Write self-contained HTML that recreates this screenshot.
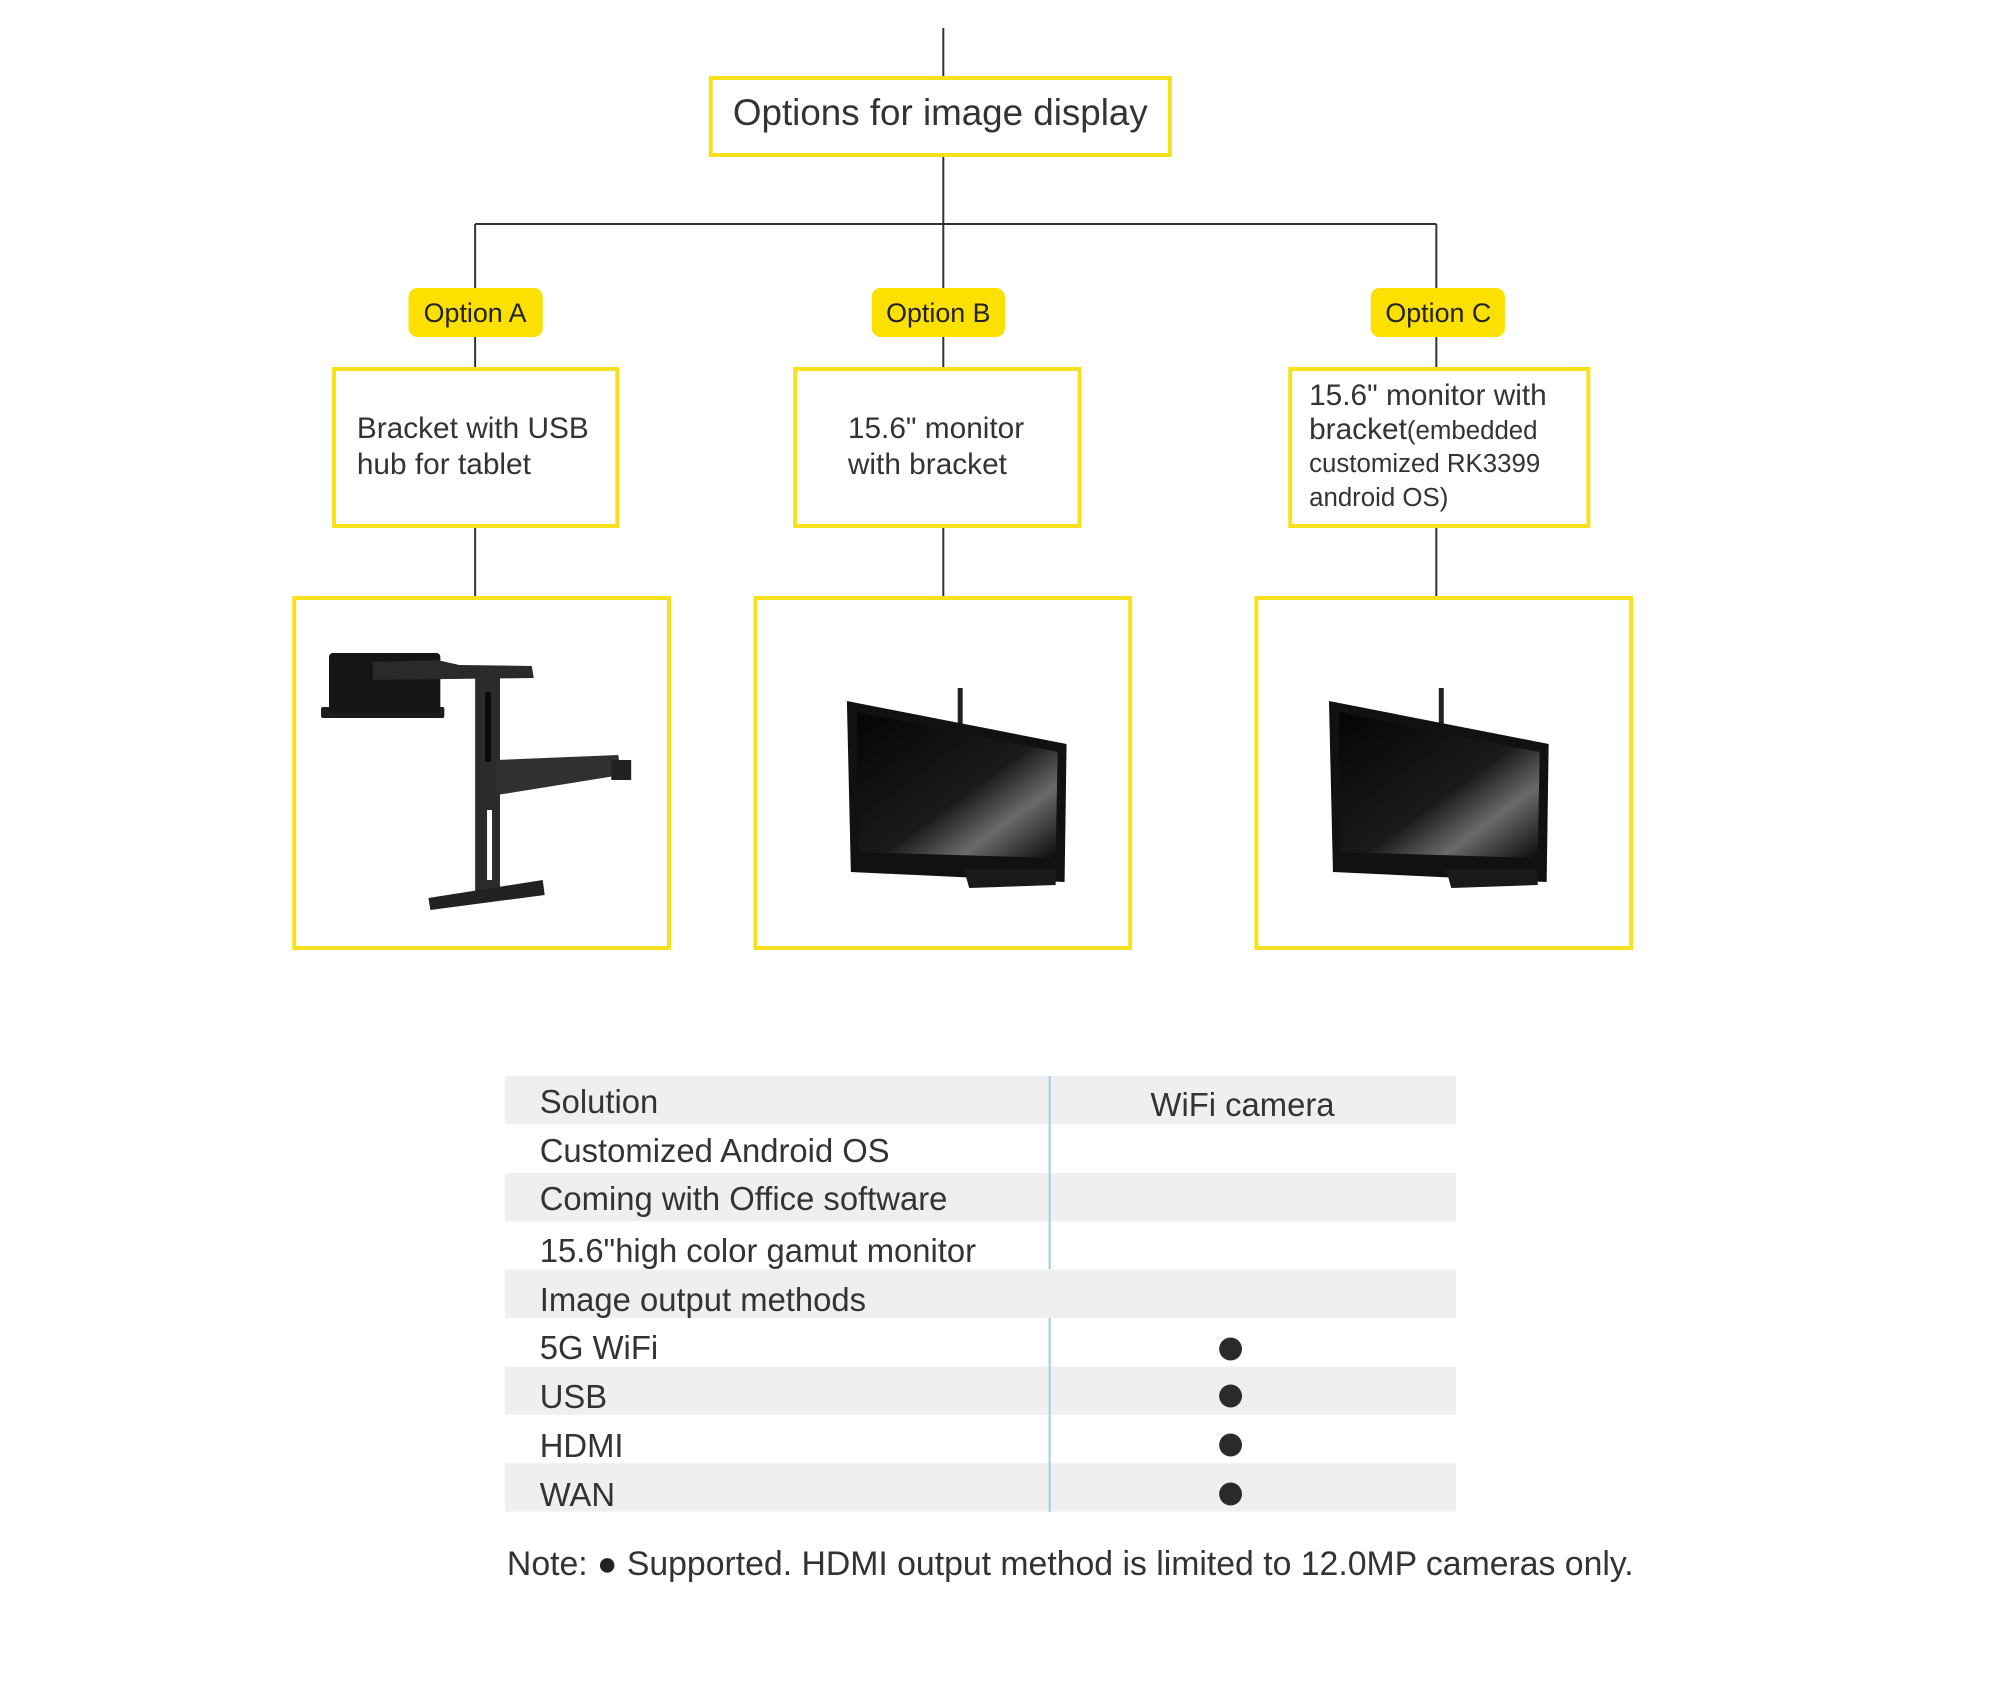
<!DOCTYPE html>
<html><head><meta charset="utf-8"><style>
html,body{margin:0;padding:0;background:#fff;}
body{width:2000px;height:1692px;position:relative;overflow:hidden;font-family:"Liberation Sans",Arial,sans-serif;color:#333;}
</style></head><body>
<svg width="2000" height="1692" viewBox="0 0 2000 1692" xmlns="http://www.w3.org/2000/svg" style="position:absolute;left:0;top:0">
<defs>
<linearGradient id="scr" x1="0" y1="0" x2="1" y2="1">
<stop offset="0" stop-color="#050505"/><stop offset="0.55" stop-color="#1a1a1a"/><stop offset="0.75" stop-color="#6a6a6a"/><stop offset="1" stop-color="#0a0a0a"/>
</linearGradient>
</defs>
<g transform="scale(0.994 1)">
<g stroke="#333" stroke-width="2" fill="none">
<line x1="949" y1="28" x2="949" y2="77"/>
<line x1="949" y1="155" x2="949" y2="597"/>
<line x1="478" y1="224" x2="1445" y2="224"/>
<line x1="478" y1="224" x2="478" y2="597"/>
<line x1="1445" y1="224" x2="1445" y2="597"/>
</g>
<g fill="#fff" stroke="#f7e11c" stroke-width="4">
<rect x="715" y="78" width="462" height="77"/>
<rect x="336" y="369" width="285" height="157"/>
<rect x="800" y="369" width="286" height="157"/>
<rect x="1298" y="369" width="300" height="157"/>
<rect x="296" y="598" width="377" height="350"/>
<rect x="760" y="598" width="377" height="350"/>
<rect x="1264" y="598" width="377" height="350"/>
</g>
<g fill="#fbe000">
<rect x="411" y="288" width="135" height="49" rx="9"/>
<rect x="877" y="288" width="134" height="49" rx="9"/>
<rect x="1379" y="288" width="135" height="49" rx="9"/>
</g>
<g font-family="Liberation Sans, Arial, sans-serif" fill="#333" xml:space="preserve">
<text x="946" y="125" font-size="37" text-anchor="middle">Options for image display</text>
<text x="478" y="322" font-size="27" text-anchor="middle" fill="#222">Option A</text>
<text x="944" y="322" font-size="27" text-anchor="middle" fill="#222">Option B</text>
<text x="1447" y="322" font-size="27" text-anchor="middle" fill="#222">Option C</text>
<text x="359" y="438" font-size="30">Bracket with USB</text>
<text x="359" y="474" font-size="30">hub for tablet</text>
<text x="853" y="438" font-size="30">15.6"  monitor</text>
<text x="853" y="474" font-size="30">with bracket</text>
<text x="1317" y="405" font-size="30">15.6"  monitor with</text>
<text x="1317" y="439" font-size="30">bracket<tspan font-size="26">(embedded</tspan></text>
<text x="1317" y="472" font-size="26">customized RK3399</text>
<text x="1317" y="506" font-size="26">android OS)</text>
</g>
<!-- bracket -->
<g fill="#1c1c1c">
<rect x="323" y="707" width="124" height="11" rx="2"/>
<rect x="331" y="653" width="112" height="60" rx="4" fill="#151515"/>
<polygon points="375,662 440,660 462,665 535,666 537,678 375,680" fill="#2a2a2a"/>
<rect x="478" y="678" width="25" height="220" fill="#2b2b2b"/>
<rect x="488" y="692" width="6" height="70" fill="#0a0a0a"/>
<rect x="490" y="810" width="5" height="70" fill="#fff"/>
<polygon points="500,760 622,755 625,775 500,795" fill="#303030"/>
<rect x="615" y="760" width="20" height="20" fill="#222"/>
<polygon points="431,898 546,880 548,895 433,910" fill="#222"/>
</g>
<g>
<line x1="966" y1="688" x2="966" y2="725" stroke="#222" stroke-width="5"/>
<polygon points="852,701 1073,744 1071,882 856,872" fill="#111"/>
<polygon points="862,712 1064,752 1062,858 863,852" fill="url(#scr)"/>
<polygon points="970,870 1062,870 1062,885 975,888" fill="#1a1a1a"/>
</g>
<g>
<line x1="1450" y1="688" x2="1450" y2="725" stroke="#222" stroke-width="5"/>
<polygon points="1337,701 1558,744 1556,882 1341,872" fill="#111"/>
<polygon points="1347,712 1549,752 1547,858 1348,852" fill="url(#scr)"/>
<polygon points="1455,870 1547,870 1547,885 1460,888" fill="#1a1a1a"/>
</g>
<!-- table -->
<g fill="#efefef">
<rect x="508" y="1076" width="957" height="48.4"/>
<rect x="508" y="1172.8" width="957" height="48.4"/>
<rect x="508" y="1269.6" width="957" height="48.4"/>
<rect x="508" y="1366.4" width="957" height="48.4"/>
<rect x="508" y="1463.2" width="957" height="48.4"/>
</g>
<g stroke="#9fcde0" stroke-width="2">
<line x1="1056" y1="1076" x2="1056" y2="1269"/>
<line x1="1056" y1="1318" x2="1056" y2="1512"/>
</g>
<g font-family="Liberation Sans, Arial, sans-serif" font-size="33" fill="#333">
<text x="543" y="1113">Solution</text>
<text x="1250" y="1116" text-anchor="middle">WiFi camera</text>
<text x="543" y="1162">Customized Android OS</text>
<text x="543" y="1210">Coming with Office software</text>
<text x="543" y="1262">15.6"high color gamut monitor</text>
<text x="543" y="1311">Image output methods</text>
<text x="543" y="1359">5G WiFi</text>
<text x="543" y="1408">USB</text>
<text x="543" y="1457">HDMI</text>
<text x="543" y="1506">WAN</text>
<text x="510" y="1575" font-size="34">Note: <tspan fill="#222">●</tspan> Supported. HDMI output method is limited to 12.0MP cameras only.</text>
</g>
<g fill="#2a2a2a">
<circle cx="1238" cy="1349" r="11.5"/>
<circle cx="1238" cy="1396" r="11.5"/>
<circle cx="1238" cy="1445" r="11.5"/>
<circle cx="1238" cy="1494" r="11.5"/>
</g>
</g>
</svg>
</body></html>
